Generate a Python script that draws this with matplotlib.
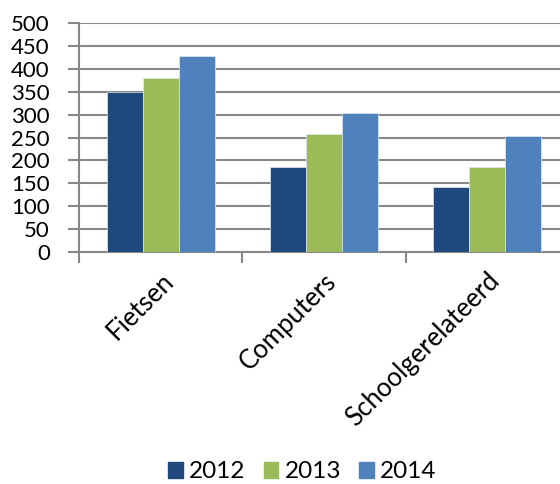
import numpy as np
import matplotlib
matplotlib.use("Agg")
from matplotlib import pyplot as plt
from matplotlib.patches import Patch

plt.rcParams['font.family'] = ['Lato', 'DejaVu Sans']

categories = ['Fietsen', 'Computers', 'Schoolgerelateerd']
years = ['2012', '2013', '2014']
v2012 = [350, 186, 142]
v2013 = [380, 257, 185]
v2014 = [428, 304, 253]
colors = ['#1F497D', '#9BBB59', '#4F81BD']

fig = plt.figure(figsize=(5.6, 4.84), dpi=100)
ax = fig.add_axes([0.141, 0.48, 0.875, 0.4717])

x = np.arange(len(categories))
w = 0.22
for i, (vals, col) in enumerate(zip([v2012, v2013, v2014], colors)):
    ax.bar(x + (i - 1) * w, vals, w, color=col, edgecolor='#dfe8f0', linewidth=0.5, zorder=3)

ax.set_xlim(-0.5, 2.5)
ax.set_ylim(0, 500)
ax.set_yticks(range(0, 501, 50))
ax.grid(axis='y', color='#878787', linewidth=1.5, zorder=0)

for s in ['top', 'right']:
    ax.spines[s].set_visible(False)
for s in ['left', 'bottom']:
    ax.spines[s].set_color('#878787')
    ax.spines[s].set_linewidth(1.5)

# category labels between boundary ticks
ax.set_xticks([-0.5, 0.5, 1.5, 2.5])
ax.set_xticklabels([])
ax.set_xticks(x, minor=True)
ax.set_xticklabels(categories, minor=True, rotation=45, ha='right',
                   rotation_mode='anchor', fontsize=18.5)
ax.tick_params(axis='x', which='major', length=8, width=1.5, color='#878787')
ax.tick_params(axis='x', which='minor', length=0, pad=12)
ax.tick_params(axis='y', length=8, width=1.5, color='#878787', labelsize=16, pad=13)

handles = [Patch(color=c, label=y) for c, y in zip(colors, years)]
fig.legend(handles=handles, loc='center', bbox_to_anchor=(0.54, 0.025), ncol=3,
           frameon=False, fontsize=17.5, handlelength=0.6, handleheight=0.6,
           columnspacing=0.75, handletextpad=0.25)

fig.savefig('out.png', dpi=100)
